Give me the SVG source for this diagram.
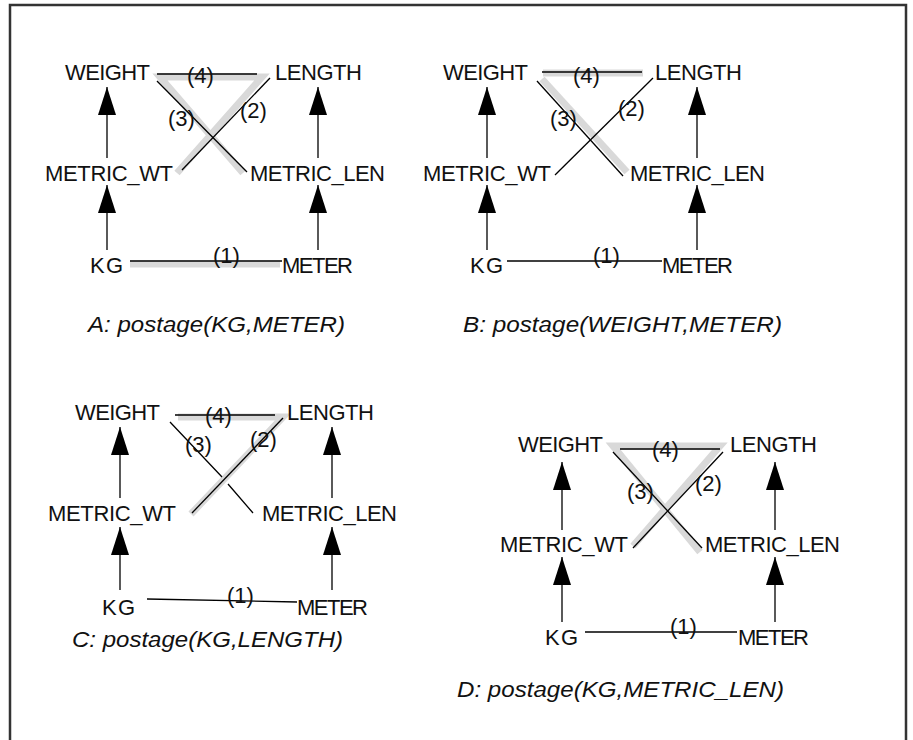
<svg xmlns="http://www.w3.org/2000/svg" width="913" height="740" viewBox="0 0 913 740">
  <defs>
    <marker id="arrow" markerUnits="userSpaceOnUse" markerWidth="28" markerHeight="18" refX="28" refY="9" orient="auto">
      <path d="M0,0 L28,9 L0,18 Z" fill="#000"/>
    </marker>
    <style>
      .node { font-family: "Liberation Sans", Arial, sans-serif; font-size: 22px; fill: #111; }
      .lbl { font-family: "Liberation Sans", Arial, sans-serif; font-size: 22px; fill: #111; }
      .cap { font-family: "Liberation Sans", Arial, sans-serif; font-size: 22px; font-style: italic; fill: #111; }
      .edge { stroke: #000; stroke-width: 1.3; fill: none; }
      .isa { stroke: #000; stroke-width: 1.3; fill: none; marker-end: url(#arrow); }
      .hl { stroke: #d9d9d9; stroke-width: 7; fill: none; stroke-linejoin: miter; }
      .frame { stroke: #333; stroke-width: 2.5; fill: none; }
    </style>
  </defs>

  <rect width="913" height="740" fill="#fff"/>
  <path class="frame" d="M10,745 V5 H906 V745"/>

  <!-- Panel A: postage(KG,METER) -->
  <g id="panelA">
    <g id="A-highlights">
      <path class="hl" d="M177,173 L262,77 L160,77 L243,173"/>
      <path class="hl" d="M130,264 L280,264" stroke-width="6"/>
    </g>
    <g id="A-connectors">
      <path class="isa" d="M107,158 V87"/>
      <path class="isa" d="M107,250 V185"/>
      <path class="isa" d="M318,158 V87"/>
      <path class="isa" d="M318,250 V185"/>
      <path class="edge" d="M157,74 L257,74"/>
      <path class="edge" d="M157,81 L247,172"/>
      <path class="edge" d="M270,78 L182,170"/>
      <path class="edge" d="M130,261 L282,261"/>
      <text class="lbl" x="187" y="82.5">(4)</text>
      <text class="lbl" x="168" y="126">(3)</text>
      <text class="lbl" x="240" y="117.5">(2)</text>
      <text class="lbl" x="213" y="262.5">(1)</text>
    </g>
    <g id="A-WEIGHT"><text class="node" x="65" y="80" textLength="85">WEIGHT</text></g>
    <g id="A-LENGTH"><text class="node" x="275" y="80" textLength="87">LENGTH</text></g>
    <g id="A-METRIC_WT"><text class="node" x="45" y="181" textLength="128">METRIC_WT</text></g>
    <g id="A-METRIC_LEN"><text class="node" x="250" y="181" textLength="135">METRIC_LEN</text></g>
    <g id="A-KG"><text class="node" x="90" y="273" textLength="33">KG</text></g>
    <g id="A-METER"><text class="node" x="282" y="273" textLength="71">METER</text></g>
    <text class="cap" x="88" y="332" textLength="257" lengthAdjust="spacingAndGlyphs">A: postage(KG,METER)</text>
  </g>

  <!-- Panel B: postage(WEIGHT,METER) -->
  <g id="panelB">
    <g id="B-highlights">
      <path class="hl" d="M543,73 L643,73"/>
      <path class="hl" d="M542,79 L627,172"/>
    </g>
    <g id="B-connectors">
      <path class="isa" d="M487,158 V87"/>
      <path class="isa" d="M487,250 V185"/>
      <path class="isa" d="M697,158 V87"/>
      <path class="isa" d="M697,250 V185"/>
      <path class="edge" d="M542,72 L642,72"/>
      <path class="edge" d="M537,81 L623,176"/>
      <path class="edge" d="M653,78 L555,175"/>
      <path class="edge" d="M507,261 L662,261"/>
      <text class="lbl" x="573" y="82.5">(4)</text>
      <text class="lbl" x="550" y="126">(3)</text>
      <text class="lbl" x="618" y="116">(2)</text>
      <text class="lbl" x="593" y="263">(1)</text>
    </g>
    <g id="B-WEIGHT"><text class="node" x="443" y="80" textLength="85">WEIGHT</text></g>
    <g id="B-LENGTH"><text class="node" x="655" y="80" textLength="87">LENGTH</text></g>
    <g id="B-METRIC_WT"><text class="node" x="423" y="181" textLength="128">METRIC_WT</text></g>
    <g id="B-METRIC_LEN"><text class="node" x="630" y="181" textLength="135">METRIC_LEN</text></g>
    <g id="B-KG"><text class="node" x="470" y="273" textLength="33">KG</text></g>
    <g id="B-METER"><text class="node" x="662" y="273" textLength="71">METER</text></g>
    <text class="cap" x="463" y="332" textLength="319" lengthAdjust="spacingAndGlyphs">B: postage(WEIGHT,METER)</text>
  </g>

  <!-- Panel C: postage(KG,LENGTH) -->
  <g id="panelC">
    <g id="C-highlights">
      <path class="hl" d="M178,417 L283,417 L191,514"/>
    </g>
    <g id="C-connectors">
      <path class="isa" d="M120,498 V427"/>
      <path class="isa" d="M120,590 V527"/>
      <path class="isa" d="M332,498 V427"/>
      <path class="isa" d="M332,590 V527"/>
      <path class="edge" d="M175,415 L275,415"/>
      <path class="edge" d="M170,422 L222,477 M228,484 L253,513"/>
      <path class="edge" d="M283,418 L192,513"/>
      <path class="edge" d="M147,599 L297,602"/>
      <text class="lbl" x="205" y="422.5">(4)</text>
      <text class="lbl" x="185" y="452">(3)</text>
      <text class="lbl" x="250" y="447">(2)</text>
      <text class="lbl" x="227" y="603">(1)</text>
    </g>
    <g id="C-WEIGHT"><text class="node" x="75" y="420" textLength="85">WEIGHT</text></g>
    <g id="C-LENGTH"><text class="node" x="287" y="420" textLength="87">LENGTH</text></g>
    <g id="C-METRIC_WT"><text class="node" x="48" y="521" textLength="128">METRIC_WT</text></g>
    <g id="C-METRIC_LEN"><text class="node" x="262" y="521" textLength="135">METRIC_LEN</text></g>
    <g id="C-KG"><text class="node" x="102" y="615" textLength="33">KG</text></g>
    <g id="C-METER"><text class="node" x="297" y="615" textLength="71">METER</text></g>
    <text class="cap" x="72" y="647" textLength="271" lengthAdjust="spacingAndGlyphs">C: postage(KG,LENGTH)</text>
  </g>

  <!-- Panel D: postage(KG,METRIC_LEN) -->
  <g id="panelD">
    <g id="D-highlights">
      <path class="hl" d="M633,546 L720,446 L613,446 L700,552"/>
    </g>
    <g id="D-connectors">
      <path class="isa" d="M562,530 V462"/>
      <path class="isa" d="M562,622 V557"/>
      <path class="isa" d="M775,530 V462"/>
      <path class="isa" d="M775,622 V557"/>
      <path class="edge" d="M620,449 L720,449"/>
      <path class="edge" d="M613,452 L702,548"/>
      <path class="edge" d="M723,452 L633,548"/>
      <path class="edge" d="M585,632 L737,632"/>
      <text class="lbl" x="652" y="457">(4)</text>
      <text class="lbl" x="627" y="499">(3)</text>
      <text class="lbl" x="695" y="491">(2)</text>
      <text class="lbl" x="670" y="634">(1)</text>
    </g>
    <g id="D-WEIGHT"><text class="node" x="518" y="452" textLength="85">WEIGHT</text></g>
    <g id="D-LENGTH"><text class="node" x="730" y="452" textLength="87">LENGTH</text></g>
    <g id="D-METRIC_WT"><text class="node" x="500" y="552" textLength="128">METRIC_WT</text></g>
    <g id="D-METRIC_LEN"><text class="node" x="705" y="552" textLength="135">METRIC_LEN</text></g>
    <g id="D-KG"><text class="node" x="545" y="645" textLength="33">KG</text></g>
    <g id="D-METER"><text class="node" x="738" y="645" textLength="71">METER</text></g>
    <text class="cap" x="457" y="697" textLength="327" lengthAdjust="spacingAndGlyphs">D: postage(KG,METRIC_LEN)</text>
  </g>
</svg>
